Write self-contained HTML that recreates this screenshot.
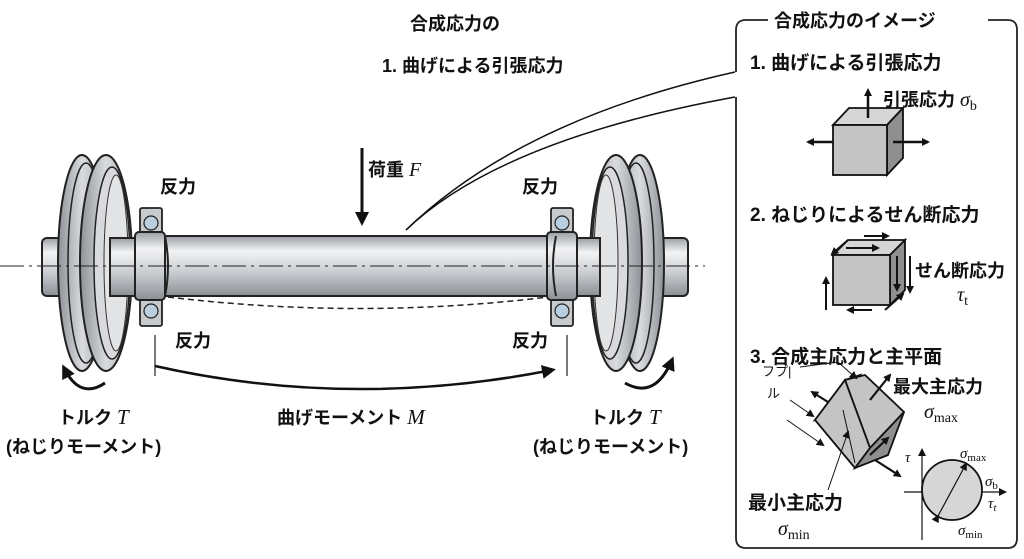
<!DOCTYPE html>
<html><head><meta charset="utf-8"><style>
html,body{margin:0;padding:0;background:#fff;}
svg{display:block;}
text{font-family:"Liberation Sans","Noto Sans CJK JP",sans-serif;fill:#111;font-weight:bold;}
.m{font-family:"Liberation Serif",serif;font-style:italic;font-weight:normal;}
.n{font-weight:normal;}
</style></head><body>
<svg width="1024" height="559" viewBox="0 0 1024 559" xmlns="http://www.w3.org/2000/svg">
<defs>
<linearGradient id="sh" x1="0" y1="0" x2="0" y2="1">
<stop offset="0" stop-color="#9a9ea3"/><stop offset="0.25" stop-color="#f2f3f4"/><stop offset="0.6" stop-color="#c9ccd0"/><stop offset="1" stop-color="#8c9095"/></linearGradient>
<linearGradient id="wh" x1="0" y1="0" x2="1" y2="0">
<stop offset="0" stop-color="#8e9297"/><stop offset="0.5" stop-color="#d9dbde"/><stop offset="1" stop-color="#a5a9ad"/></linearGradient>
<marker id="ah" markerWidth="8" markerHeight="8" refX="6" refY="4" orient="auto" markerUnits="userSpaceOnUse"><path d="M0,0 L8,4 L0,8z" fill="#111"/></marker>
<marker id="ab" markerWidth="14" markerHeight="14" refX="10" refY="7" orient="auto" markerUnits="userSpaceOnUse"><path d="M0,0 L14,7 L0,14z" fill="#111"/></marker>
<g id="wheel">
<ellipse cx="0" cy="0" rx="24" ry="108" fill="url(#wh)" stroke="#222" stroke-width="2"/>
<ellipse cx="4" cy="0" rx="18" ry="100" fill="none" stroke="#222" stroke-width="1.5"/>
<ellipse cx="24" cy="0" rx="26" ry="108" fill="url(#wh)" stroke="#222" stroke-width="2"/>
<ellipse cx="30" cy="0" rx="18" ry="96" fill="#d8dadd" stroke="#222" stroke-width="1.5"/>
<ellipse cx="34" cy="0" rx="12" ry="88" fill="#e2e4e6" stroke="#333" stroke-width="1"/>
</g>
<g id="brg">
<rect x="0" y="0" width="22" height="30" rx="2" fill="#c8cbce" stroke="#222" stroke-width="1.8"/>
<circle cx="11" cy="15" r="7" fill="#b9cfe0" stroke="#222" stroke-width="1.2"/>
</g>
</defs>

<rect x="42" y="238" width="70" height="58" rx="5" fill="url(#sh)" stroke="#222" stroke-width="2"/>
<use href="#wheel" x="82" y="263"/>
<rect x="110" y="238" width="40" height="58" fill="url(#sh)" stroke="#222" stroke-width="2"/>
<rect x="630" y="238" width="58" height="58" rx="5" fill="url(#sh)" stroke="#222" stroke-width="2"/>
<use href="#wheel" transform="translate(640,263) scale(-1,1)"/>
<rect x="560" y="238" width="40" height="58" fill="url(#sh)" stroke="#222" stroke-width="2"/>

<rect x="160" y="236" width="400" height="60" fill="url(#sh)" stroke="#222" stroke-width="2"/>
<use href="#brg" x="140" y="208"/>
<use href="#brg" x="140" y="296"/>
<rect x="135" y="232" width="30" height="68" rx="4" fill="url(#sh)" stroke="#222" stroke-width="2"/>
<path d="M165,236 q6,30 0,60" fill="none" stroke="#222" stroke-width="2"/>
<use href="#brg" x="551" y="208"/>
<use href="#brg" x="551" y="296"/>
<rect x="547" y="232" width="30" height="68" rx="4" fill="url(#sh)" stroke="#222" stroke-width="2"/>
<path d="M556,236 q-6,30 0,60" fill="none" stroke="#222" stroke-width="2"/>

<line x1="0" y1="266" x2="705" y2="266" stroke="#222" stroke-width="1" stroke-dasharray="24,5,3,5"/>
<path d="M168,297 Q360,320 548,297" fill="none" stroke="#222" stroke-width="1.5" stroke-dasharray="6,4"/>

<line x1="362" y1="148" x2="362" y2="222" stroke="#111" stroke-width="3" marker-end="url(#ab)"/>
<text x="368" y="176" font-size="18">荷重 <tspan class="m" font-size="20">F</tspan></text>

<text x="160" y="193" font-size="18">反力</text>
<text x="522" y="193" font-size="18">反力</text>
<text x="175" y="347" font-size="18">反力</text>
<text x="512" y="347" font-size="18">反力</text>

<line x1="155" y1="335" x2="155" y2="376" stroke="#222" stroke-width="1.2"/>
<line x1="567" y1="335" x2="567" y2="376" stroke="#222" stroke-width="1.2"/>
<path d="M155,366 Q350,410 552,370" fill="none" stroke="#111" stroke-width="2.5" marker-end="url(#ab)"/>
<text x="277" y="424" font-size="18">曲げモーメント <tspan class="m" font-size="21">M</tspan></text>

<path d="M105,383 Q80,400 64,368" fill="none" stroke="#111" stroke-width="3" marker-end="url(#ab)"/>
<path d="M625,383 Q655,400 672,360" fill="none" stroke="#111" stroke-width="3" marker-end="url(#ab)"/>
<text x="58" y="424" font-size="18">トルク <tspan class="m" font-size="21">T</tspan></text>
<text x="6" y="453" font-size="18">(ねじりモーメント)</text>
<text x="590" y="424" font-size="18">トルク <tspan class="m" font-size="21">T</tspan></text>
<text x="533" y="453" font-size="18">(ねじりモーメント)</text>

<text x="410" y="30" font-size="18">合成応力の</text>
<text x="382" y="72" font-size="18">1. 曲げによる引張応力</text>
<rect x="580" y="50" width="40" height="30" fill="#fff"/>

<path d="M406,230 Q520,120 735,72" fill="none" stroke="#111" stroke-width="1.5"/>
<path d="M406,230 Q500,140 735,97" fill="none" stroke="#111" stroke-width="1.5"/>

<path d="M736,72 L736,30 Q736,20 746,20 L1008,20 Q1017,20 1017,30 L1017,538 Q1017,548 1008,548 L746,548 Q736,548 736,538 L736,97" fill="#fff" stroke="#222" stroke-width="1.8"/>
<rect x="768" y="8" width="220" height="22" fill="#fff"/>
<text x="774" y="27" font-size="18">合成応力のイメージ</text>
<text x="750" y="69" font-size="19">1. 曲げによる引張応力</text>

<g stroke="#111" stroke-width="1.8">
<path d="M833,125 L849,108 L903,108 L887,125z" fill="#d6d6d6"/>
<path d="M887,125 L903,108 L903,158 L887,175z" fill="#8f8f8f"/>
<rect x="833" y="125" width="54" height="50" fill="#c4c4c4"/>
</g>
<line x1="868" y1="118" x2="868" y2="90" stroke="#111" stroke-width="2.5" marker-end="url(#ah)"/>
<line x1="833" y1="142" x2="808" y2="142" stroke="#111" stroke-width="2.5" marker-end="url(#ah)"/>
<line x1="893" y1="142" x2="928" y2="142" stroke="#111" stroke-width="2.5" marker-end="url(#ah)"/>
<text x="883" y="106" font-size="18">引張応力 <tspan class="m" font-size="20">σ</tspan><tspan class="n" font-family="Liberation Serif" font-size="14" dy="4">b</tspan></text>

<text x="750" y="221" font-size="19">2. ねじりによるせん断応力</text>
<g stroke="#111" stroke-width="1.8">
<path d="M833,255 L848,240 L905,240 L890,255z" fill="#d6d6d6"/>
<path d="M890,255 L905,240 L905,290 L890,305z" fill="#8f8f8f"/>
<rect x="833" y="255" width="57" height="50" fill="#c4c4c4"/>
</g>
<g stroke="#111" stroke-width="2" fill="none">
<line x1="864" y1="236" x2="888" y2="236" marker-end="url(#ah)"/>
<line x1="848" y1="240" x2="832" y2="254" marker-end="url(#ah)"/>
<line x1="846" y1="248" x2="878" y2="248" marker-end="url(#ah)"/>
<line x1="897" y1="256" x2="897" y2="290" marker-end="url(#ah)"/>
<line x1="910" y1="256" x2="910" y2="292" marker-end="url(#ah)"/>
<line x1="826" y1="310" x2="826" y2="278" marker-end="url(#ah)"/>
<line x1="872" y1="310" x2="848" y2="310" marker-end="url(#ah)"/>
<line x1="885" y1="310" x2="903" y2="294" marker-end="url(#ah)"/>
</g>
<text x="915" y="277" font-size="18">せん断応力</text>
<text x="957" y="301" class="m" font-size="20">τ<tspan font-style="normal" font-size="14" dy="4">t</tspan></text>

<text x="750" y="363" font-size="19">3. 合成主応力と主平面</text>
<g stroke="#111" stroke-width="1.8">
<path d="M815,420 L845,380 L860,375 L830,415z" fill="#d6d6d6"/>
<path d="M845,380 L865,375 L904,412 L870,448z" fill="#c4c4c4"/>
<path d="M815,420 L845,380 L870,448 L855,468z" fill="#c4c4c4"/>
<path d="M870,448 L904,412 L888,455 L855,468z" fill="#8f8f8f"/>
</g>
<g stroke="#111" stroke-width="2.2" fill="none">
<line x1="870" y1="400" x2="890" y2="375" marker-end="url(#ah)"/>
<line x1="828" y1="402" x2="812" y2="392" marker-end="url(#ah)"/>
<line x1="875" y1="460" x2="900" y2="476" marker-end="url(#ah)"/>
<line x1="870" y1="455" x2="888" y2="438" marker-end="url(#ah)"/>
</g>
<g stroke="#111" stroke-width="1" fill="none">
<path d="M800,367 L838,362 L856,378" marker-end="url(#ah)"/>
<line x1="790" y1="400" x2="813" y2="416" marker-end="url(#ah)"/>
<line x1="787" y1="420" x2="823" y2="445" marker-end="url(#ah)"/>
<line x1="828" y1="490" x2="848" y2="432" marker-end="url(#ah)"/>
<line x1="855" y1="463" x2="843" y2="410"/>
</g>
<text x="762" y="376" font-size="13" class="n">フプ|</text>
<text x="767" y="398" font-size="13" class="n">ル</text>
<text x="893" y="393" font-size="18">最大主応力</text>
<text x="924" y="418" class="m" font-size="20">σ<tspan font-style="normal" font-size="14" dy="4">max</tspan></text>
<text x="748" y="509" font-size="19">最小主応力</text>
<text x="778" y="535" class="m" font-size="20">σ<tspan font-style="normal" font-size="14" dy="4">min</tspan></text>

<line x1="904" y1="492" x2="1005" y2="492" stroke="#111" stroke-width="1.2" marker-end="url(#ah)"/>
<line x1="922" y1="540" x2="922" y2="450" stroke="#111" stroke-width="1.2" marker-end="url(#ah)"/>
<circle cx="952" cy="490" r="30" fill="#d6d6d6" stroke="#111" stroke-width="1.8"/>
<line x1="938" y1="516" x2="966" y2="464" stroke="#111" stroke-width="1.2" marker-end="url(#ah)" marker-start="url(#ah)"/>
<text x="905" y="462" class="m" font-size="15">τ</text>
<text x="960" y="458" class="m" font-size="15">σ<tspan font-style="normal" font-size="11" dy="3">max</tspan></text>
<text x="985" y="486" class="m" font-size="15">σ<tspan font-style="normal" font-size="11" dy="3">b</tspan></text>
<text x="988" y="508" class="m" font-size="15">τ<tspan font-size="11" dy="3">t</tspan></text>
<text x="958" y="535" class="m" font-size="15">σ<tspan font-style="normal" font-size="11" dy="3">min</tspan></text>
</svg>
</body></html>
